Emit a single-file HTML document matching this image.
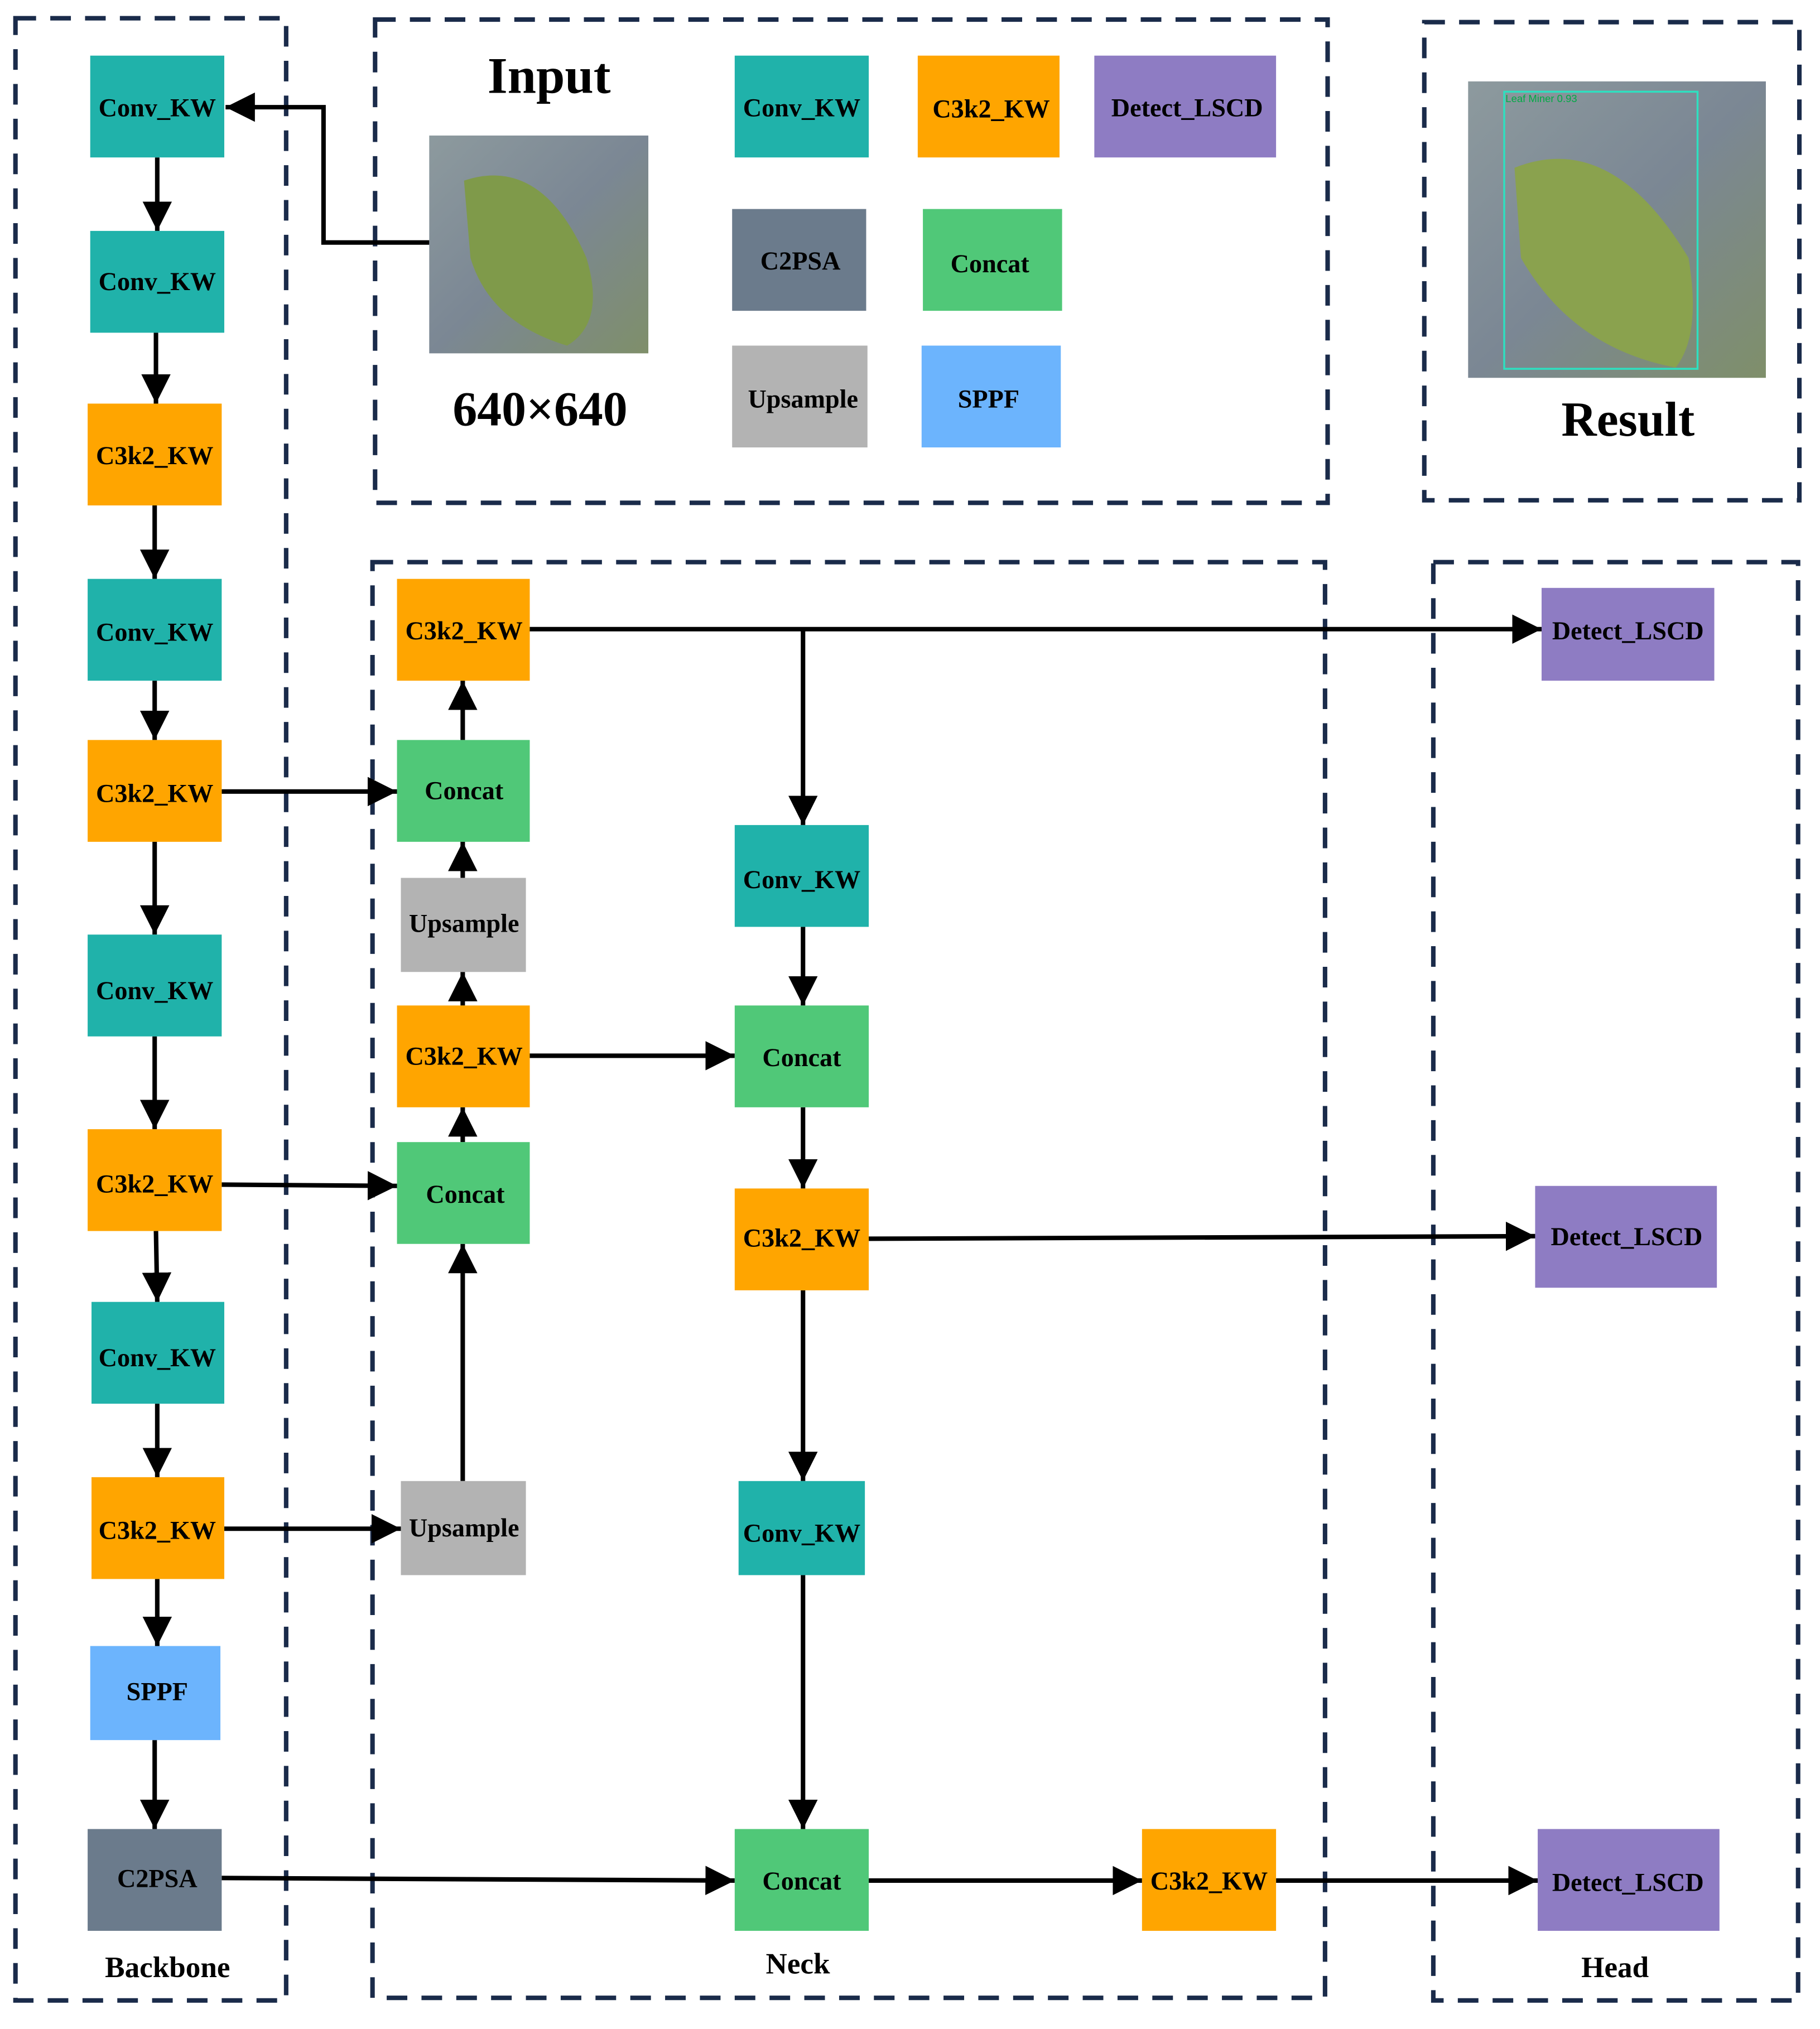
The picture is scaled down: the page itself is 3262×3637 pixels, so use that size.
<!DOCTYPE html>
<html><head><meta charset="utf-8"><style>html,body{margin:0;padding:0;background:#fff}svg{display:block}</style></head>
<body>
<svg xmlns="http://www.w3.org/2000/svg" width="3262" height="3637" viewBox="0 0 1412 1574">
<defs>
<marker id="a" viewBox="0 0 10 10" refX="10" refY="5" markerWidth="6.5" markerHeight="6.5" markerUnits="strokeWidth" orient="auto"><path d="M0,0 L10,5 L0,10 z" fill="#000"/></marker>
<linearGradient id="bg" x1="0" y1="0" x2="1" y2="1"><stop offset="0" stop-color="#8d9a9e"/><stop offset="0.5" stop-color="#7b8794"/><stop offset="1" stop-color="#7f8f6a"/></linearGradient>
</defs>
<g fill="none" stroke="#1a2b4a" stroke-width="3.5" stroke-dasharray="16 11">
<rect x="12" y="14" width="210" height="1538"/>
<rect x="291" y="15" width="739" height="375"/>
<rect x="1105" y="17" width="291" height="371"/>
<rect x="289" y="436" width="739" height="1114"/>
<rect x="1112" y="436" width="283" height="1116"/>
</g>
<g font-family="Liberation Serif, serif" font-weight="bold" text-anchor="middle" fill="#000">
<text x="130" y="1534" font-size="23">Backbone</text>
<text x="619" y="1531" font-size="23">Neck</text>
<text x="1253" y="1534" font-size="23">Head</text>
<text x="426" y="72" font-size="40">Input</text>
<text x="419" y="330" font-size="38">640×640</text>
<text x="1263" y="338" font-size="38">Result</text>
</g>
<!-- images -->
<rect x="333" y="105" width="170" height="169" fill="url(#bg)"/>
<path d="M360,140 Q420,120 455,200 Q470,250 440,268 Q380,250 365,200 Z" fill="#7f9a4a"/>
<rect x="1139" y="63" width="231" height="230" fill="url(#bg)"/>
<path d="M1175,130 Q1250,100 1310,200 Q1320,260 1300,285 Q1220,270 1180,200 Z" fill="#8aa24e"/>
<rect x="1167" y="71" width="150" height="215" fill="none" stroke="#2ee0c0" stroke-width="1.5"/>
<text x="1168" y="79" font-family="Liberation Sans, sans-serif" font-size="8" fill="#0a4">Leaf Miner 0.93</text>
<!-- connectors -->
<g stroke="#000" stroke-width="3.5" fill="none" marker-end="url(#a)">
<polyline points="333,188 251,188 251,83 175,83"/>
<line x1="122" y1="122" x2="122" y2="179"/>
<line x1="121" y1="258" x2="121" y2="313"/>
<line x1="120" y1="392" x2="120" y2="449"/>
<line x1="120" y1="528" x2="120" y2="574"/>
<line x1="120" y1="653" x2="120" y2="725"/>
<line x1="120" y1="804" x2="120" y2="876"/>
<line x1="121" y1="955" x2="122" y2="1010"/>
<line x1="122" y1="1089" x2="122" y2="1146"/>
<line x1="122" y1="1225" x2="122" y2="1277"/>
<line x1="120" y1="1350" x2="120" y2="1419"/>
<line x1="172" y1="614" x2="308" y2="614"/>
<line x1="172" y1="919" x2="308" y2="920"/>
<line x1="174" y1="1186" x2="311" y2="1186"/>
<line x1="172" y1="1457" x2="570" y2="1459"/>
<line x1="359" y1="1149" x2="359" y2="965"/>
<line x1="359" y1="886" x2="359" y2="859"/>
<line x1="359" y1="780" x2="359" y2="754"/>
<line x1="359" y1="681" x2="359" y2="653"/>
<line x1="359" y1="574" x2="359" y2="528"/>
<line x1="411" y1="488" x2="1196" y2="488"/>
<polyline points="623,488 623,640"/>
<line x1="411" y1="819" x2="570" y2="819"/>
<line x1="623" y1="719" x2="623" y2="780"/>
<line x1="623" y1="859" x2="623" y2="922"/>
<line x1="623" y1="1001" x2="623" y2="1149"/>
<line x1="623" y1="1222" x2="623" y2="1419"/>
<line x1="674" y1="961" x2="1191" y2="959"/>
<line x1="674" y1="1459" x2="886" y2="1459"/>
<line x1="990" y1="1459" x2="1193" y2="1459"/>
</g>
<!-- nodes -->
<g font-family="Liberation Serif, serif" font-weight="bold" font-size="20" text-anchor="middle" fill="#000">
<rect x="70" y="43" width="104" height="79" fill="#20b2aa"/><text x="122" y="90">Conv_KW</text>
<rect x="70" y="179" width="104" height="79" fill="#20b2aa"/><text x="122" y="225">Conv_KW</text>
<rect x="68" y="313" width="104" height="79" fill="#ffa500"/><text x="120" y="360">C3k2_KW</text>
<rect x="68" y="449" width="104" height="79" fill="#20b2aa"/><text x="120" y="497">Conv_KW</text>
<rect x="68" y="574" width="104" height="79" fill="#ffa500"/><text x="120" y="622">C3k2_KW</text>
<rect x="68" y="725" width="104" height="79" fill="#20b2aa"/><text x="120" y="775">Conv_KW</text>
<rect x="68" y="876" width="104" height="79" fill="#ffa500"/><text x="120" y="925">C3k2_KW</text>
<rect x="71" y="1010" width="103" height="79" fill="#20b2aa"/><text x="122" y="1060">Conv_KW</text>
<rect x="71" y="1146" width="103" height="79" fill="#ffa500"/><text x="122" y="1194">C3k2_KW</text>
<rect x="70" y="1277" width="101" height="73" fill="#6cb4fd"/><text x="122" y="1319">SPPF</text>
<rect x="68" y="1419" width="104" height="79" fill="#6b7b8c"/><text x="122" y="1464">C2PSA</text>

<rect x="570" y="43" width="104" height="79" fill="#20b2aa"/><text x="622" y="90">Conv_KW</text>
<rect x="712" y="43" width="110" height="79" fill="#ffa500"/><text x="769" y="91">C3k2_KW</text>
<rect x="849" y="43" width="141" height="79" fill="#8e7cc3"/><text x="921" y="90">Detect_LSCD</text>
<rect x="568" y="162" width="104" height="79" fill="#6b7b8c"/><text x="621" y="209">C2PSA</text>
<rect x="716" y="162" width="108" height="79" fill="#50c878"/><text x="768" y="211">Concat</text>
<rect x="568" y="268" width="105" height="79" fill="#b3b3b3"/><text x="623" y="316">Upsample</text>
<rect x="715" y="268" width="108" height="79" fill="#6cb4fd"/><text x="767" y="316">SPPF</text>

<rect x="308" y="449" width="103" height="79" fill="#ffa500"/><text x="360" y="496">C3k2_KW</text>
<rect x="308" y="574" width="103" height="79" fill="#50c878"/><text x="360" y="620">Concat</text>
<rect x="311" y="681" width="97" height="73" fill="#b3b3b3"/><text x="360" y="723">Upsample</text>
<rect x="308" y="780" width="103" height="79" fill="#ffa500"/><text x="360" y="826">C3k2_KW</text>
<rect x="308" y="886" width="103" height="79" fill="#50c878"/><text x="361" y="933">Concat</text>
<rect x="311" y="1149" width="97" height="73" fill="#b3b3b3"/><text x="360" y="1192">Upsample</text>

<rect x="570" y="640" width="104" height="79" fill="#20b2aa"/><text x="622" y="689">Conv_KW</text>
<rect x="570" y="780" width="104" height="79" fill="#50c878"/><text x="622" y="827">Concat</text>
<rect x="570" y="922" width="104" height="79" fill="#ffa500"/><text x="622" y="967">C3k2_KW</text>
<rect x="573" y="1149" width="98" height="73" fill="#20b2aa"/><text x="622" y="1196">Conv_KW</text>
<rect x="570" y="1419" width="104" height="79" fill="#50c878"/><text x="622" y="1466">Concat</text>
<rect x="886" y="1419" width="104" height="79" fill="#ffa500"/><text x="938" y="1466">C3k2_KW</text>

<rect x="1196" y="456" width="134" height="72" fill="#8e7cc3"/><text x="1263" y="496">Detect_LSCD</text>
<rect x="1191" y="920" width="141" height="79" fill="#8e7cc3"/><text x="1262" y="966">Detect_LSCD</text>
<rect x="1193" y="1419" width="141" height="79" fill="#8e7cc3"/><text x="1263" y="1467">Detect_LSCD</text>
</g>
</svg>
</body></html>
